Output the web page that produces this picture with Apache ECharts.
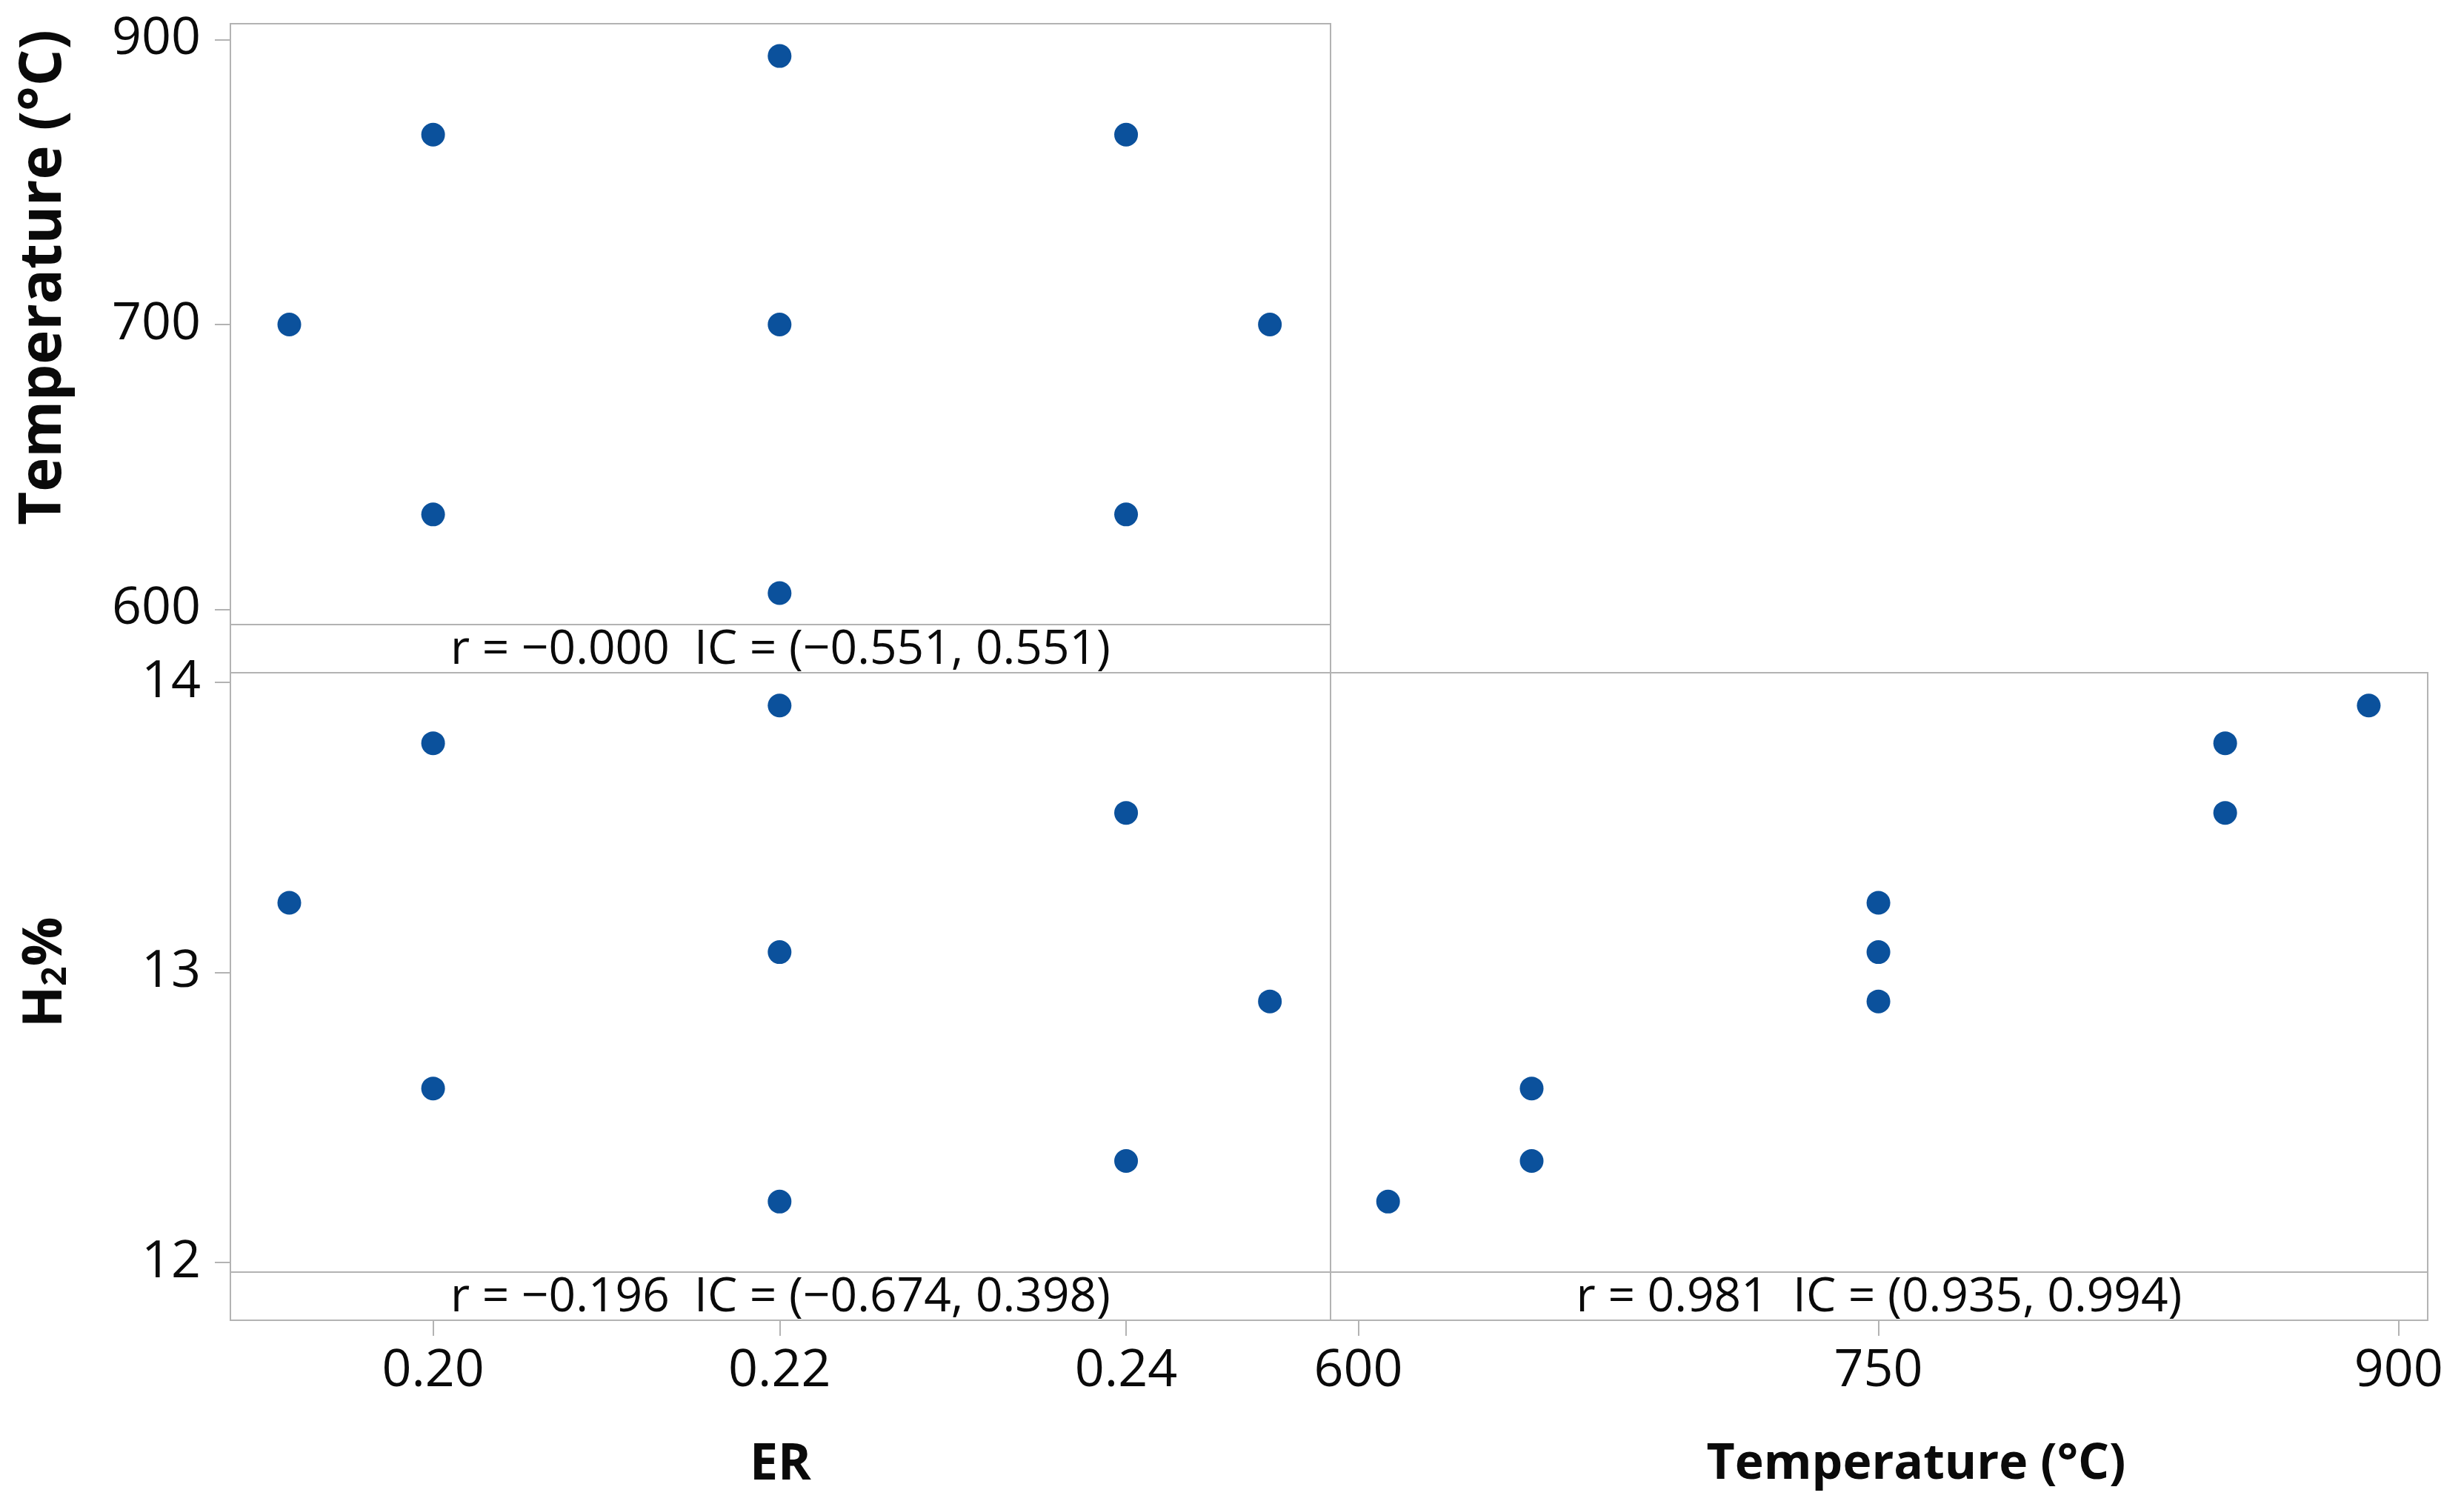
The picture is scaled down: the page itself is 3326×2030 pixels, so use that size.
<!DOCTYPE html>
<html><head><meta charset="utf-8">
<script src="https://cdn.jsdelivr.net/npm/echarts@6/dist/echarts.min.js"></script>
<style>html,body{margin:0;padding:0;background:#fff}#c{width:3326px;height:2030px}</style>
</head><body><div id="c"></div>
<script>
// ---- data ----
const erValues   = [0.1917, 0.20, 0.20, 0.22, 0.22, 0.22, 0.24, 0.24, 0.2483];
const tempValues = [750, 850, 650, 891.4, 750, 608.6, 850, 650, 750];
const h2Values   = [13.24, 13.79, 12.60, 13.92, 13.07, 12.21, 13.55, 12.35, 12.90];

const erTicks = [0.20, 0.22, 0.24];
const erTickLabels = ['0.20', '0.22', '0.24'];
const tempTicksX = [600, 750, 900];
const tempTickLabelsX = ['600', '750', '900'];
const tempTicksY = [600, 750, 900];
const tempTickLabelsY = ['600', '700', '900'];
const h2Ticks = [12, 13, 14];
const h2TickLabels = ['12', '13', '14'];

const corrTexts = [
  'r = −0.000  IC = (−0.551, 0.551)',
  'r = −0.196  IC = (−0.674, 0.398)',
  'r = 0.981  IC = (0.935, 0.994)'
];
const titleER = 'ER';
const titleTemp = 'Temperature (°C)';

// ---- styling / layout ----
const FONT = 'Open Sans';
const LINE = '#b3b3b3';
const DOT = '#0B519C';
const TXT = '#0a0a0a';
const P = { L: 311, M: 1796, R: 3277, T: 32, S1: 843, B1: 908, S2: 1717, B2: 1782 };

function lab(ticks, labels) {
  return function (v) {
    for (let i = 0; i < ticks.length; i++) if (Math.abs(ticks[i] - v) < 1e-6) return labels[i];
    return '';
  };
}
const tickStyle = { show: true, length: 21, lineStyle: { color: LINE, width: 2 } };
const labelStyle = { fontFamily: FONT, fontSize: 70, color: TXT };

const chart = echarts.init(document.getElementById('c'), null, { renderer: 'canvas' });
const gridBase = { show: true, borderColor: LINE, borderWidth: 2, backgroundColor: '#fff', containLabel: false };
const dotStyle = { color: DOT, opacity: 1 };

const option = {
  animation: false,
  backgroundColor: '#fff',
  grid: [
    Object.assign({ left: P.L, top: P.T, width: P.M - P.L, height: P.S1 - P.T }, gridBase),
    Object.assign({ left: P.L, top: P.B1, width: P.M - P.L, height: P.S2 - P.B1 }, gridBase),
    Object.assign({ left: P.M, top: P.B1, width: P.R - P.M, height: P.S2 - P.B1 }, gridBase)
  ],
  xAxis: [
    { type: 'value', gridIndex: 0, min: 0.1883, max: 0.2518, axisLine: { show: false }, axisTick: { show: false }, axisLabel: { show: false }, splitLine: { show: false } },
    { type: 'value', gridIndex: 1, min: 0.1883, max: 0.2518, offset: P.B2 - P.S2,
      axisLine: { show: false }, splitLine: { show: false },
      axisTick: Object.assign({ customValues: erTicks }, tickStyle),
      axisLabel: Object.assign({ customValues: erTicks, formatter: lab(erTicks, erTickLabels), margin: 34 }, labelStyle),
      name: titleER, nameLocation: 'middle', nameGap: 162,
      nameTextStyle: { fontFamily: FONT, fontSize: 68, fontWeight: 'bold', color: TXT } },
    { type: 'value', gridIndex: 2, min: 592, max: 908.4, offset: P.B2 - P.S2,
      axisLine: { show: false }, splitLine: { show: false },
      axisTick: Object.assign({ customValues: tempTicksX }, tickStyle),
      axisLabel: Object.assign({ customValues: tempTicksX, formatter: lab(tempTicksX, tempTickLabelsX), margin: 34 }, labelStyle),
      name: titleTemp, nameLocation: 'middle', nameGap: 162,
      nameTextStyle: { fontFamily: FONT, fontSize: 66, fontWeight: 'bold', color: TXT, padding: [0, 0, 0, 100] } }
  ],
  yAxis: [
    { type: 'value', gridIndex: 0, min: 592, max: 908.4,
      axisLine: { show: false }, splitLine: { show: false },
      axisTick: Object.assign({ customValues: tempTicksY }, tickStyle),
      axisLabel: Object.assign({ customValues: tempTicksY, formatter: lab(tempTicksY, tempTickLabelsY), margin: 40 }, labelStyle),
      name: titleTemp, nameLocation: 'middle', nameGap: 212,
      nameTextStyle: { fontFamily: FONT, fontSize: 78, fontWeight: 'bold', color: TXT, padding: [0, 0, 0, 126] } },
    { type: 'value', gridIndex: 1, min: 11.967, max: 14.033,
      axisLine: { show: false }, splitLine: { show: false },
      axisTick: Object.assign({ customValues: h2Ticks }, tickStyle),
      axisLabel: Object.assign({ customValues: h2Ticks, formatter: lab(h2Ticks, h2TickLabels), margin: 40 }, labelStyle),
      name: '{a|H}{s|2}{a|%}', nameLocation: 'middle', nameGap: 212,
      nameTextStyle: { rich: {
        a: { fontFamily: FONT, fontSize: 74, fontWeight: 'bold', color: TXT },
        s: { fontFamily: FONT, fontSize: 46, fontWeight: 'bold', color: TXT, verticalAlign: 'bottom', padding: [26, 0, 0, 0] } } } },
    { type: 'value', gridIndex: 2, min: 11.967, max: 14.033,
      axisLine: { show: false }, axisTick: { show: false }, axisLabel: { show: false }, splitLine: { show: false } }
  ],
  series: [
    { type: 'scatter', xAxisIndex: 0, yAxisIndex: 0, symbolSize: 32, itemStyle: dotStyle,
      data: erValues.map((e, i) => [e, tempValues[i]]) },
    { type: 'scatter', xAxisIndex: 1, yAxisIndex: 1, symbolSize: 32, itemStyle: dotStyle,
      data: erValues.map((e, i) => [e, h2Values[i]]) },
    { type: 'scatter', xAxisIndex: 2, yAxisIndex: 2, symbolSize: 32, itemStyle: dotStyle,
      data: tempValues.map((t, i) => [t, h2Values[i]]) }
  ],
  graphic: [
    { type: 'rect', shape: { x: P.L, y: P.S1, width: P.M - P.L, height: P.B1 - P.S1 }, style: { fill: '#fff', stroke: LINE, lineWidth: 2 } },
    { type: 'rect', shape: { x: P.L, y: P.S2, width: P.M - P.L, height: P.B2 - P.S2 }, style: { fill: '#fff', stroke: LINE, lineWidth: 2 } },
    { type: 'rect', shape: { x: P.M, y: P.S2, width: P.R - P.M, height: P.B2 - P.S2 }, style: { fill: '#fff', stroke: LINE, lineWidth: 2 } },
    { type: 'text', x: (P.L + P.M) / 2, y: (P.S1 + P.B1) / 2 + 2, style: { text: corrTexts[0], fontFamily: FONT, fontSize: 64, fill: TXT, align: 'center', verticalAlign: 'middle' } },
    { type: 'text', x: (P.L + P.M) / 2, y: (P.S2 + P.B2) / 2 + 2, style: { text: corrTexts[1], fontFamily: FONT, fontSize: 64, fill: TXT, align: 'center', verticalAlign: 'middle' } },
    { type: 'text', x: (P.M + P.R) / 2, y: (P.S2 + P.B2) / 2 + 2, style: { text: corrTexts[2], fontFamily: FONT, fontSize: 64, fill: TXT, align: 'center', verticalAlign: 'middle' } }
  ]
};
chart.setOption(option);
</script>
</body></html>
